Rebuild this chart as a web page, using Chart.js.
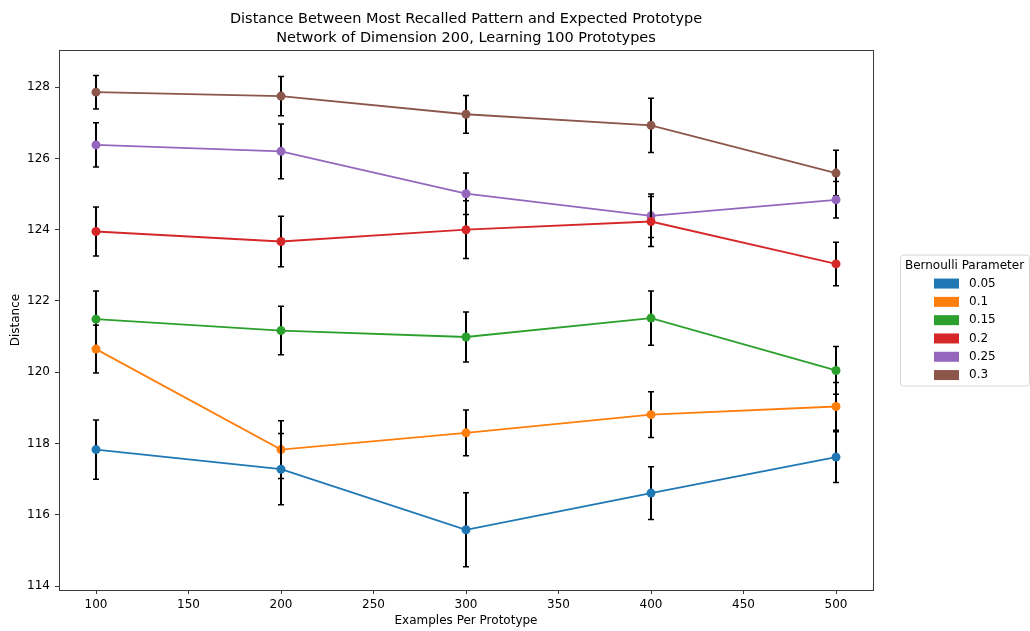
<!DOCTYPE html>
<html>
<head>
<meta charset="utf-8">
<script src="https://cdn.jsdelivr.net/npm/chart.js@4"></script>
<style>
html,body{margin:0;padding:0;background:#fff}
#wrap{width:1030px;height:631px}
</style>
</head>
<body>
<div id="wrap"><canvas id="chart1"></canvas></div>
<script>
// data
const examples = [100, 200, 300, 400, 500]
const params = ["0.05", "0.1", "0.15", "0.2", "0.25", "0.3"]
const colors = ["#1f77b4", "#ff7f0e", "#2ca02c", "#d62728", "#9467bd", "#8c564b"]

const dist005 = [117.83, 117.28, 115.58, 116.61, 117.62]
const dist01  = [120.65, 117.83, 118.30, 118.81, 119.04]
const dist015 = [121.49, 121.17, 120.99, 121.52, 120.05]
const dist02  = [123.95, 123.67, 124.00, 124.23, 123.04]
const dist025 = [126.38, 126.20, 125.01, 124.39, 124.84]
const dist03  = [127.86, 127.75, 127.24, 126.93, 125.59]

const err005 = [0.83, 1.00, 1.04, 0.74, 0.71]
const err01  = [0.67, 0.81, 0.64, 0.64, 0.67]
const err015 = [0.79, 0.68, 0.70, 0.76, 0.67]
const err02  = [0.69, 0.71, 0.81, 0.70, 0.61]
const err025 = [0.62, 0.77, 0.58, 0.61, 0.51]
const err03  = [0.47, 0.55, 0.53, 0.76, 0.64]

const xTicks = [100, 150, 200, 250, 300, 350, 400, 450, 500]
const yTicks = [114, 116, 118, 120, 122, 124, 126, 128]

const allDist = [dist005, dist01, dist015, dist02, dist025, dist03]
const allErr = [err005, err01, err015, err02, err025, err03]

const FONT = "'DejaVu Sans', sans-serif"

var datasets = params.map((p, i) => ({
  label: p,
  data: examples.map((x, j) => ({x: x, y: allDist[i][j]})),
  errors: allErr[i],
  borderColor: colors[i],
  backgroundColor: colors[i],
  borderWidth: 1.8,
  pointRadius: 4.5,
  pointHoverRadius: 4.5,
  pointBorderWidth: 0,
  tension: 0,
  fill: false
}))

// error bars drawn just before each line so the markers sit on top
const errorBars = {
  id: 'errorBars',
  beforeDatasetDraw(chart, args) {
    const ds = chart.data.datasets[args.index]
    const xs = chart.scales.x, ys = chart.scales.y
    const ctx = chart.ctx
    ctx.save()
    ctx.strokeStyle = '#000'
    ds.data.forEach((pt, j) => {
      const px = xs.getPixelForValue(pt.x)
      const top = ys.getPixelForValue(pt.y + ds.errors[j])
      const bot = ys.getPixelForValue(pt.y - ds.errors[j])
      ctx.lineWidth = 2
      ctx.beginPath()
      ctx.moveTo(px, top); ctx.lineTo(px, bot)
      ctx.stroke()
      ctx.lineWidth = 1.5
      ctx.beginPath()
      ctx.moveTo(px - 3, top); ctx.lineTo(px + 3, top)
      ctx.moveTo(px - 3, bot); ctx.lineTo(px + 3, bot)
      ctx.stroke()
    })
    ctx.restore()
  }
}

// top/right spines and the legend box on the right
const frame = {
  id: 'frame',
  afterDraw(chart) {
    const a = chart.chartArea, ctx = chart.ctx
    ctx.save()
    ctx.strokeStyle = '#3a3a3a'
    ctx.lineWidth = 1
    ctx.strokeRect(Math.round(a.left) + 0.5, Math.round(a.top) + 0.5,
      Math.round(a.right - a.left), Math.round(a.bottom - a.top))

    const lw = 129, lh = 131
    const lx = a.right + 27, ly = (a.top + a.bottom) / 2 - lh / 2
    ctx.beginPath()
    ctx.roundRect(lx + 0.5, ly + 0.5, lw, lh, 3)
    ctx.fillStyle = 'rgba(255,255,255,0.8)'
    ctx.fill()
    ctx.strokeStyle = '#d6d6d6'
    ctx.stroke()
    ctx.fillStyle = '#000'
    ctx.font = '12px ' + FONT
    ctx.textAlign = 'center'
    ctx.textBaseline = 'middle'
    ctx.fillText('Bernoulli Parameter', lx + lw / 2, ly + 11)
    ctx.textAlign = 'left'
    chart.data.datasets.forEach((ds, i) => {
      const cy = ly + 29 + i * 18.3
      ctx.fillStyle = ds.borderColor
      ctx.fillRect(lx + 34, cy - 5, 25, 10)
      ctx.fillStyle = '#000'
      ctx.fillText(ds.label, lx + 69, cy)
    })
    ctx.restore()
  }
}

new Chart(document.getElementById("chart1"), {
  type: 'line',
  data: {datasets: datasets},
  plugins: [errorBars, frame],
  options: {
    animation: false,
    responsive: true,
    maintainAspectRatio: false,
    layout: {padding: {left: 0, right: 157, top: 0, bottom: 0}},
    plugins: {
      legend: {display: false},
      tooltip: {enabled: false},
      title: {
        display: true,
        fullSize: false,
        text: ["Distance Between Most Recalled Pattern and Expected Prototype",
               "Network of Dimension 200, Learning 100 Prototypes"],
        color: '#000',
        font: {family: FONT, size: 14.5, weight: 'normal', lineHeight: 1.28},
        padding: {top: 10, bottom: 3}
      }
    },
    scales: {
      x: {
        type: 'linear',
        min: 80,
        max: 520,
        afterBuildTicks: axis => { axis.ticks = xTicks.map(v => ({value: v})) },
        afterFit: axis => { axis.height = 41 },
        grid: {drawOnChartArea: false, drawTicks: true, tickLength: 4, color: '#3a3a3a'},
        border: {display: true, color: '#3a3a3a', width: 1},
        ticks: {color: '#000', padding: 4, font: {family: FONT, size: 12}, maxRotation: 0},
        title: {display: true, text: 'Examples Per Prototype', color: '#000',
          font: {family: FONT, size: 12}, padding: {top: 0, bottom: 3}}
      },
      y: {
        type: 'linear',
        min: 113.89,
        max: 129.04,
        afterBuildTicks: axis => { axis.ticks = yTicks.map(v => ({value: v})) },
        afterFit: axis => { axis.width = 59 },
        grid: {drawOnChartArea: false, drawTicks: true, tickLength: 4, color: '#3a3a3a'},
        border: {display: true, color: '#3a3a3a', width: 1},
        ticks: {color: '#000', padding: 5, font: {family: FONT, size: 12}},
        title: {display: true, text: 'Distance', color: '#000',
          font: {family: FONT, size: 12}, padding: {top: 9, bottom: 0}}
      }
    }
  }
});
</script>
</body>
</html>
